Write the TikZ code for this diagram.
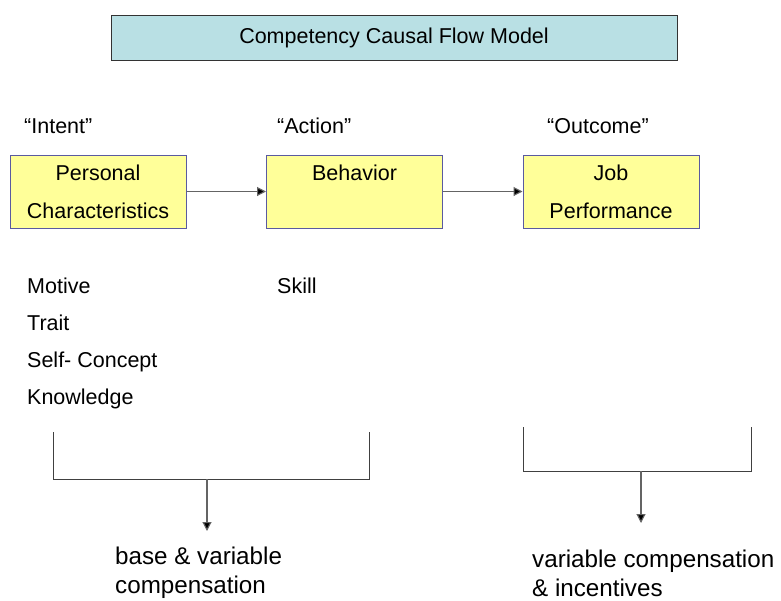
\documentclass[tikz,border=0pt]{standalone}
\usepackage{fontspec}
\setmainfont{Liberation Sans}
\usetikzlibrary{arrows.meta}
\definecolor{titlefill}{RGB}{185,224,228}
\definecolor{boxfill}{RGB}{255,255,153}
\definecolor{boxline}{RGB}{90,90,160}
\definecolor{conn}{RGB}{100,100,100}
\tikzset{
  txt/.style={font=\fontsize{21.5}{38}\selectfont, inner sep=0pt, anchor=base west},
  bigtxt/.style={font=\fontsize{24.2}{29}\selectfont, inner sep=0pt, align=left, anchor=west},
  titlebox/.style={draw=black!80, fill=titlefill, line width=0.9pt, minimum width=566pt, minimum height=45pt, font=\fontsize{21.5}{26}\selectfont},
  flowbox/.style={draw=boxline, fill=boxfill, line width=1pt, minimum width=176pt, minimum height=73pt, align=center, font=\fontsize{21.5}{38}\selectfont, inner sep=0pt},
  flowarrow/.style={draw=conn, line width=1.1pt, -{Triangle[length=9pt,width=9pt,fill=black]}},
  bracket/.style={draw=black!75, line width=1pt},
}
\begin{document}
\begin{tikzpicture}[x=1pt,y=-1pt]
\useasboundingbox (0,0) rectangle (781,600);
\fill[white] (0,0) rectangle (781,600);
\node[titlebox] (title) at (394,37.5) {Competency Causal Flow Model};

\node[txt] (intent) at (24,133) {“Intent”};
\node[txt] (action) at (277,133) {“Action”};
\node[txt] (outcome) at (547,133) {“Outcome”};

\node[flowbox] (pc) at (98,191.5) {Personal\\Characteristics};
\node[flowbox] (beh) at (354.5,191.5) {Behavior\\~};
\node[flowbox] (job) at (611,191.5) {Job\\Performance};

\draw[flowarrow] (pc.east) -- (beh.west);
\draw[flowarrow] (beh.east) -- (job.west);

\node[txt] (motive) at (27,293) {Motive};
\node[txt] (trait) at (27,330) {Trait};
\node[txt] (self) at (27,367) {Self- Concept};
\node[txt] (know) at (27,404.5) {Knowledge};
\node[txt] (skill) at (277,293) {Skill};

\coordinate (b1a) at (53,432);
\coordinate (b1b) at (53,479);
\coordinate (b1c) at (369,479);
\coordinate (b1d) at (369,432);
\coordinate (b1m) at (207,479);
\coordinate (b1e) at (207,531);
\draw[bracket] (b1a) -- (b1b) -- (b1c) -- (b1d);
\draw[flowarrow] (b1m) -- (b1e);

\coordinate (b2a) at (523,427);
\coordinate (b2b) at (523,471);
\coordinate (b2c) at (751,471);
\coordinate (b2d) at (751,427);
\coordinate (b2m) at (641,471);
\coordinate (b2e) at (641,523);
\draw[bracket] (b2a) -- (b2b) -- (b2c) -- (b2d);
\draw[flowarrow] (b2m) -- (b2e);

\node[bigtxt] (base) at (115,573) {base \& variable\\compensation};
\node[bigtxt] (varc) at (532,573) {variable compensation\\\& incentives};
\end{tikzpicture}
\end{document}
